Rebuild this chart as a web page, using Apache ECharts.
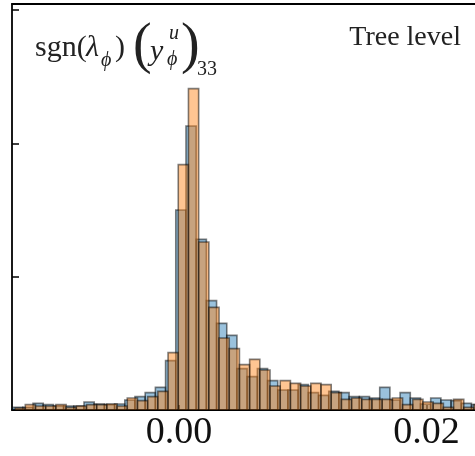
<!DOCTYPE html>
<html>
<head>
<meta charset="utf-8">
<script src="https://cdn.jsdelivr.net/npm/echarts@6/dist/echarts.min.js"></script>
<style>
  html, body { margin: 0; padding: 0; background: #fff; }
  #chart { width: 475px; height: 456px; }
</style>
</head>
<body>
<div id="chart"></div>
<script>
// histogram bins (shared width), values are densities
const binStart = -0.013244;
const binWidth = 0.000824;
const blueShift = -0.0002;

const orangeDensity = [1.5, 4, 3, 3, 4, 2, 3, 4, 4, 4.5, 3, 9, 7, 10, 14, 43, 184, 241, 126, 77,
  54, 46, 34, 38, 30, 18, 22, 20, 18, 20, 19, 13, 8, 9, 8, 8, 8, 9, 4, 8,
  6, 5, 2, 8, 2, 4];
const blueDensity = [2, 2, 5, 4, 3, 3, 3, 6, 4.5, 4, 4.5, 7.5, 10, 13, 17, 37, 150, 213, 128, 82,
  65, 56, 31, 25, 31, 22, 15, 15, 19, 13, 11, 14, 13, 10, 10, 9, 17, 7.5, 13, 9,
  4.5, 9, 7.5, 7, 5, 4];

const xTicks = [0, 0.02];
const yTicks = [0, 100, 200, 300];

function toBins(vals, shift) {
  return vals.map((v, i) => [binStart + shift + i * binWidth, binStart + shift + (i + 1) * binWidth, v]);
}

function histItem(fill) {
  return function (params, api) {
    const p0 = api.coord([api.value(0), api.value(2)]);
    const p1 = api.coord([api.value(1), 0]);
    return {
      type: 'rect',
      shape: { x: p0[0], y: p0[1], width: p1[0] - p0[0], height: p1[1] - p0[1] },
      style: { fill: fill, stroke: 'rgba(0,0,0,0.5)', lineWidth: 1.6 }
    };
  };
}

const chart = echarts.init(document.getElementById('chart'));
const serif = '"Liberation Serif", "DejaVu Serif", serif';

// math label pieces
function txt(s, x, base, size, italic, align) {
  return {
    type: 'text', x: x, y: base - 0.33 * size, silent: true,
    style: {
      text: s, fill: '#222',
      font: (italic ? 'italic ' : '') + size + 'px ' + serif,
      align: align || 'left', verticalAlign: 'middle'
    }
  };
}

const option = {
  animation: false,
  grid: { left: 12, right: 0, top: 4, bottom: 46 },
  xAxis: [{
    type: 'value',
    min: -0.013495,
    max: 0.02392,
    axisLine: { show: true, onZero: false, lineStyle: { color: '#000', width: 1.8 } },
    axisTick: { show: true, inside: true, length: 5, customValues: xTicks, lineStyle: { color: '#000', width: 1.5 } },
    axisLabel: {
      customValues: xTicks,
      formatter: v => v.toFixed(2),
      fontFamily: serif, fontSize: 38, color: '#111', margin: 4
    },
    splitLine: { show: false }
  }, {
    type: 'value',
    position: 'top',
    min: -0.013495,
    max: 0.02392,
    axisLine: { show: true, onZero: false, lineStyle: { color: '#000', width: 1.8 } },
    axisTick: { show: false },
    axisLabel: { show: false },
    splitLine: { show: false }
  }],
  yAxis: {
    type: 'value',
    min: 0,
    max: 304.5,
    axisLine: { show: true, onZero: false, lineStyle: { color: '#000', width: 1.8 } },
    axisTick: { show: true, inside: true, length: 7, customValues: yTicks, lineStyle: { color: '#000', width: 1.5 } },
    axisLabel: { show: false },
    splitLine: { show: false }
  },
  series: [{
    type: 'custom',
    name: 'blue',
    clip: true,
    renderItem: histItem('rgba(31,119,180,0.45)'),
    encode: { x: [0, 1], y: 2 },
    data: toBins(blueDensity, blueShift)
  }, {
    type: 'custom',
    name: 'orange',
    clip: true,
    renderItem: histItem('rgba(255,127,14,0.45)'),
    encode: { x: [0, 1], y: 2 },
    data: toBins(orangeDensity, 0)
  }],
  graphic: [
    txt('sgn(', 35, 58, 30, false),
    txt('λ', 86, 58, 30, true),
    txt('ϕ', 101, 67, 20, true),
    txt(')', 115, 58, 30, false),
    txt('(', 133, 66, 56, false),
    txt('y', 150, 62, 30, true),
    txt('u', 169, 40, 20, true),
    txt('ϕ', 167, 66, 20, true),
    txt(')', 181, 66, 56, false),
    txt('33', 197, 76, 20, false),
    txt('Tree level', 461, 47, 28, false, 'right')
  ]
};
chart.setOption(option);
</script>
</body>
</html>
